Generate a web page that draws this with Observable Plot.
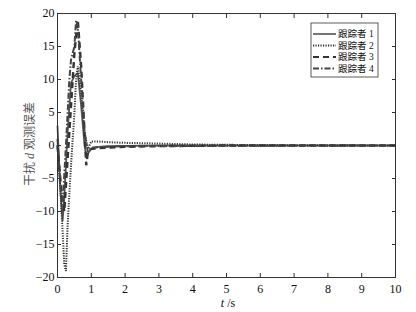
<!DOCTYPE html>
<html><head><meta charset="utf-8">
<script src="https://cdn.jsdelivr.net/npm/d3@7"></script>
<script src="https://cdn.jsdelivr.net/npm/@observablehq/plot@0.6"></script>
<style>
body{margin:0;background:#fff;}
svg{font-family:"Liberation Serif","Noto Sans CJK SC",serif;}
</style></head><body>
<div id="chart"></div>
<script>
const seriesNames = ["跟踪者 1","跟踪者 2","跟踪者 3","跟踪者 4"];
const xTicks = [0,1,2,3,4,5,6,7,8,9,10];
const yTicks = [-20,-15,-10,-5,0,5,10,15,20];

const t1 = [0,0.05,0.1,0.15,0.2,0.3,0.4,0.5,0.6,0.7,0.8,0.85,0.9,1.0,1.2,1.5,2,3,5,10];
const v1 = [3,-3,-8,-11.5,-8,2,9.5,10.5,11,6,0,-1.5,-1.2,-0.5,-0.2,-0.1,-0.05,0,0,0];
const t2 = [0,0.1,0.2,0.25,0.3,0.4,0.5,0.55,0.6,0.7,0.8,0.9,1.0,1.2,1.5,2,3,4,5,7,10];
const v2 = [0,-8,-18,-19,-12,-3,5,10,12,8,2,-0.5,0.6,0.6,0.5,0.4,0.3,0.15,0.1,0.05,0];
const t3 = [0,0.1,0.2,0.3,0.4,0.5,0.6,0.7,0.8,0.85,0.9,1.0,1.5,2,3,5,10];
const v3 = [0,-6,-10,-2,6,14,19,12,2,-3,-1,-0.5,-0.3,-0.2,-0.1,0,0];
const t4 = [0,0.1,0.15,0.25,0.35,0.4,0.5,0.55,0.6,0.7,0.8,0.9,1.0,2,10];
const v4 = [1,-7,-9,0,10,13,15,19,18,10,2,-1,-0.3,-0.1,0];

const styles = [
  {dash:null, w:1.8, c:"#555"},
  {dash:"1.2,1.3", w:2, c:"#333"},
  {dash:"6,4", w:2.4, c:"#333"},
  {dash:"6,2,1.5,2", w:2, c:"#444"}
];
const ts=[t1,t2,t3,t4], vs=[v1,v2,v3,v4];
const lineMarks = ts.map((t,i)=>Plot.line(t.map((x,j)=>({x, y:vs[i][j]})),
  {x:"x", y:"y", stroke:styles[i].c, strokeWidth:styles[i].w, strokeDasharray:styles[i].dash,
   strokeLinecap:"butt", strokeLinejoin:"miter", curve:"linear"}));

const blank = () => "";
const chart = Plot.plot({
  width:416, height:312,
  marginLeft:57, marginRight:21, marginTop:13, marginBottom:35,
  style:{fontFamily:'"Liberation Serif","Noto Sans CJK SC",serif', fontSize:"12px", color:"#111", background:"#fff"},
  x:{domain:[0,10]}, y:{domain:[-20,20]},
  marks:[
    ...lineMarks,
    Plot.frame({stroke:"#333"}),
    Plot.axisX({anchor:"bottom", ticks:xTicks, tickSize:4, dy:-4, stroke:"#333", tickFormat:blank, label:null}),
    Plot.axisX({anchor:"top", ticks:xTicks, tickSize:4, dy:4, stroke:"#333", tickFormat:blank, label:null}),
    Plot.axisY({anchor:"left", ticks:yTicks, tickSize:4, dx:4, stroke:"#333", tickFormat:blank, label:null}),
    Plot.axisY({anchor:"right", ticks:yTicks, tickSize:4, dx:-4, stroke:"#333", tickFormat:blank, label:null}),
    Plot.axisX({anchor:"bottom", ticks:xTicks, tickSize:0, tickPadding:7, fontSize:12, label:null}),
    Plot.axisY({anchor:"left", ticks:yTicks, tickSize:0, tickPadding:3, fontSize:12, label:null, tickFormat:d=>d<0?"\u2212"+(-d):String(d)})
  ]
});
document.getElementById("chart").appendChild(chart);

const svg = d3.select(chart);
const xl = svg.append("text").attr("x",228).attr("y",307).attr("text-anchor","middle").attr("font-size",12).attr("fill","#111");
xl.append("tspan").attr("font-style","italic").text("t");
xl.append("tspan").text(" /s");
const yl = svg.append("text").attr("transform","translate(30,144) rotate(-90)").attr("dy","0.35em").attr("text-anchor","middle").attr("font-size",12).attr("fill","#555");
yl.append("tspan").text("干扰 ");
yl.append("tspan").attr("font-style","italic").text("d");
yl.append("tspan").text(" 观测误差");

const lg = svg.append("g");
lg.append("rect").attr("x",311).attr("y",23).attr("width",67).attr("height",54).attr("fill","#fff").attr("stroke","#333").attr("stroke-width",0.8);
const rowsY=[34,45.5,57,68.5];
seriesNames.forEach((n,i)=>{
  lg.append("line").attr("x1",313).attr("x2",336).attr("y1",rowsY[i]).attr("y2",rowsY[i])
    .attr("stroke",styles[i].c).attr("stroke-width",styles[i].w*0.9).attr("stroke-dasharray",styles[i].dash);
  lg.append("text").attr("x",338).attr("y",rowsY[i]).attr("dy","0.35em").attr("text-anchor","start").attr("font-size",9.5).attr("fill","#111").text(n);
});
</script></body></html>
